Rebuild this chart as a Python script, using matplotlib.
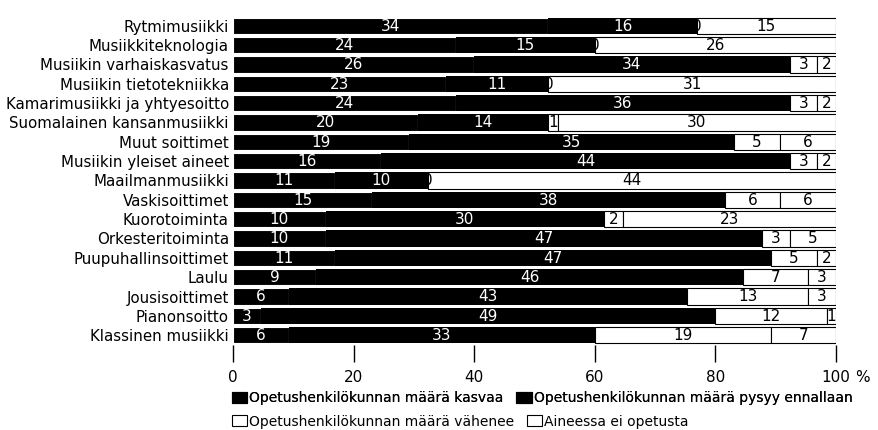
import numpy as np
import matplotlib
matplotlib.use("Agg")
import matplotlib.pyplot as plt
from matplotlib.patches import Patch

plt.rcParams['font.family'] = ['Liberation Sans Narrow', 'DejaVu Sans']

categories = ["Rytmimusiikki", "Musiikkiteknologia", "Musiikin varhaiskasvatus",
              "Musiikin tietotekniikka", "Kamarimusiikki ja yhtyesoitto",
              "Suomalainen kansanmusiikki", "Muut soittimet", "Musiikin yleiset aineet",
              "Maailmanmusiikki", "Vaskisoittimet", "Kuorotoiminta", "Orkesteritoiminta",
              "Puupuhallinsoittimet", "Laulu", "Jousisoittimet", "Pianonsoitto",
              "Klassinen musiikki"]

kasvaa = [34, 24, 26, 23, 24, 20, 19, 16, 11, 15, 10, 10, 11, 9, 6, 3, 6]
pysyy = [16, 15, 34, 11, 36, 14, 35, 44, 10, 38, 30, 47, 47, 46, 43, 49, 33]
vahenee = [0, 0, 3, 0, 3, 1, 5, 3, 0, 6, 2, 3, 5, 7, 13, 12, 19]
ei_opetusta = [15, 26, 2, 31, 2, 30, 6, 2, 44, 6, 23, 5, 2, 3, 3, 1, 7]

series_names = ["Opetushenkilökunnan määrä kasvaa",
                "Opetushenkilökunnan määrä pysyy ennallaan",
                "Opetushenkilökunnan määrä vähenee",
                "Aineessa ei opetusta"]

counts = np.array([kasvaa, pysyy, vahenee, ei_opetusta], dtype=float)
totals = counts.sum(axis=0)
pct = counts / totals * 100

fig = plt.figure(figsize=(8.79, 4.30), dpi=100)
ax = fig.add_axes([0.265, 0.198, 0.686, 0.767])

y = np.arange(len(categories))
faces = ['black', 'black', 'white', 'white']
edges = ['white', 'none', 'black', 'black']
txtcol = ['white', 'white', 'black', 'black']

left = np.zeros(len(categories))
for i in range(4):
    ax.barh(y, pct[i], left=left, height=0.84, color=faces[i],
            edgecolor=edges[i], linewidth=0.8)
    for j in range(len(categories)):
        ax.text(left[j] + pct[i][j] / 2, y[j] + 0.02, "%d" % counts[i][j],
                ha='center', va='center', color=txtcol[i], fontsize=11)
    left += pct[i]

ax.set_yticks(y)
ax.set_yticklabels(categories, fontsize=10.8)
ax.tick_params(axis='y', length=0, pad=3)
ax.set_ylim(len(categories) - 0.5, -0.55)
ax.set_xlim(0, 100)
ax.set_xticks([0, 20, 40, 60, 80, 100])
ax.tick_params(axis='x', length=12, width=1, direction='out', pad=6, labelsize=11)
for s in ax.spines.values():
    s.set_visible(False)

fig.text(0.99, 0.121, "%", fontsize=11, ha='right', va='center')

handles = [Patch(facecolor=faces[i], edgecolor='black', linewidth=0.8) for i in range(4)]
leg1 = fig.legend(handles[:2], series_names[:2], loc='upper left',
                  bbox_to_anchor=(0.264, 0.09), ncol=2, frameon=False,
                  handlelength=1.1, handleheight=0.9, handletextpad=0.15,
                  columnspacing=0.9, fontsize=10, borderpad=0, borderaxespad=0)
leg2 = fig.legend(handles[2:], series_names[2:], loc='upper left',
                  bbox_to_anchor=(0.264, 0.036), ncol=2, frameon=False,
                  handlelength=1.1, handleheight=0.9, handletextpad=0.15,
                  columnspacing=0.9, fontsize=10, borderpad=0, borderaxespad=0)
fig.add_artist(leg1)

fig.savefig("out.png", dpi=100)
